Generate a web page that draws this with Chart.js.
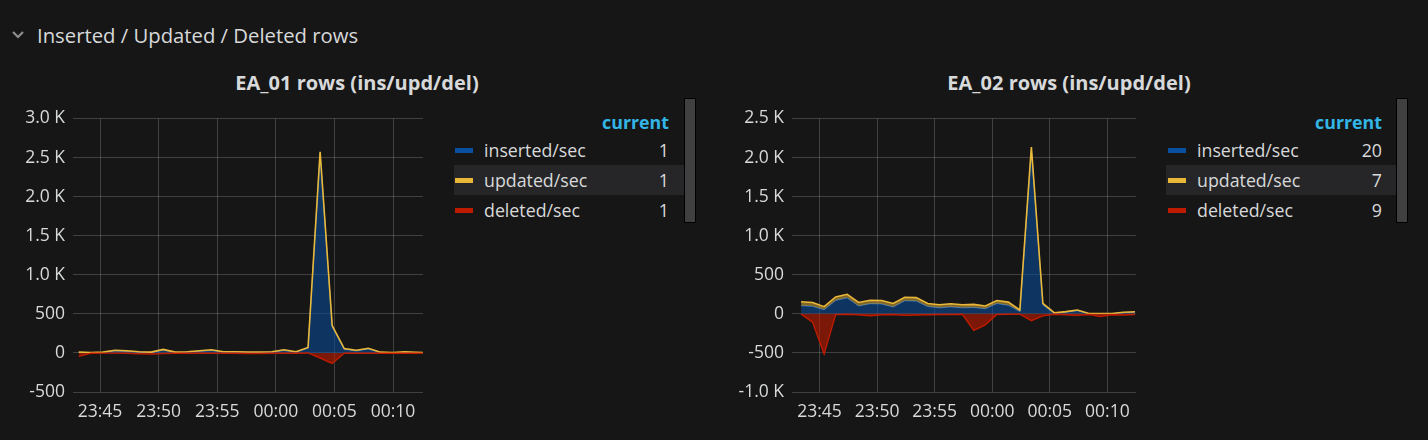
<!DOCTYPE html>
<html lang="en">
<head>
<meta charset="UTF-8">
<title>Inserted / Updated / Deleted rows</title>
<script src="https://cdn.jsdelivr.net/npm/chart.js@4.4.0/dist/chart.umd.min.js"></script>
<style>
    body { margin: 0; width: 1428px; height: 440px; background: #161616; font-family: "Open Sans", sans-serif; color: #d8d9da; position: relative; overflow: hidden; }
    .abs { position: absolute; }
    #rowTitle { left: 37px; top: 20px; font-size: 20.3px; line-height: 30px; white-space: nowrap; }
    .panelTitle { top: 69px; font-size: 20px; font-weight: 700; line-height: 28px; text-align: center; white-space: nowrap; }
    canvas { position: absolute; top: 100px; }
    .cur { top: 108px; font-size: 17.8px; font-weight: 700; color: #33b5e5; line-height: 28px; text-align: right; }
    .row { height: 30px; line-height: 30px; font-size: 17.8px; white-space: nowrap; }
    .row.hl { background: #262628; }
    .sw { position: absolute; top: 13px; width: 18px; height: 5px; }
    .lbl { position: absolute; }
    .val { position: absolute; text-align: right; }
    .scroll { top: 98px; width: 10px; height: 123px; background: #404040; border: 1px solid #000; }
</style>
</head>
<body>

<svg class="abs" style="left:10px;top:28px" width="16" height="14"><polyline points="3,4 8,9 13,4" fill="none" stroke="#8e8e8e" stroke-width="2.2"/></svg>
<div id="rowTitle" class="abs">Inserted / Updated / Deleted rows</div>

<div class="abs panelTitle" style="left:157px;width:400px">EA_01 rows (ins/upd/del)</div>
<div class="abs panelTitle" style="left:869px;width:400px">EA_02 rows (ins/upd/del)</div>

<canvas id="chart1" width="430" height="332" style="left:0px"></canvas>
<canvas id="chart2" width="420" height="332" style="left:720px"></canvas>

<div id="legend1"></div>
<div id="legend2"></div>

<script>
    // series names and colours
    const seriesNames = ['inserted/sec', 'updated/sec', 'deleted/sec'];
    const seriesColors = ['#0a50a1', '#eab839', '#bf1b00'];

    // x axis: minutes relative to 00:00
    const xTickMinutes = [-15, -10, -5, 0, 5, 10];
    const xTickLabels = ['23:45', '23:50', '23:55', '00:00', '00:05', '00:10'];

    // EA_01
    const ea01Minutes = [-16.82, -15.79, -14.76, -13.73, -12.70, -11.67, -10.64, -9.61, -8.58, -7.55,
        -6.52, -5.49, -4.46, -3.43, -2.40, -1.37, -0.34, 0.69, 1.72, 2.75,
        3.78, 4.81, 5.84, 6.87, 7.90, 8.93, 9.96, 10.99, 12.02, 13.05];
    const ea01Inserted = [5, 0, 5, 25, 18, 10, 5, 35, 5, 10, 20, 30, 10, 10, 7, 7, 10, 30, 10, 60,
        2555, 335, 45, 25, 50, 5, 0, 10, 3, 1];
    const ea01Updated = [5, 5, 5, 10, 10, 5, 5, 10, 5, 5, 8, 10, 5, 5, 5, 5, 5, 10, 5, 10,
        20, 15, 10, 10, 10, 5, 5, 5, 5, 1];
    const ea01Deleted = [45, 5, 3, 3, 5, 10, 15, 8, 5, 5, 5, 5, 5, 5, 8, 8, 5, 5, 5, 0,
        65, 133, 5, 5, 5, 5, 5, 5, 5, 1];
    const ea01Current = [1, 1, 1];
    const ea01YTicks = [-500, 0, 500, 1000, 1500, 2000, 2500, 3000];
    const ea01YLabels = ['-500', '0', '500', '1.0 K', '1.5 K', '2.0 K', '2.5 K', '3.0 K'];

    // EA_02
    const ea02Minutes = [-16.6, -15.6, -14.6, -13.6, -12.6, -11.6, -10.6, -9.6, -8.6, -7.6,
        -6.6, -5.6, -4.6, -3.6, -2.6, -1.6, -0.6, 0.4, 1.4, 2.4,
        3.4, 4.4, 5.4, 6.4, 7.4, 8.4, 9.4, 10.4, 11.4, 12.4];
    const ea02Inserted = [104, 96, 52, 172, 205, 101, 130, 126, 88, 167, 163, 93, 77, 89, 77, 81, 65, 131, 110, 30,
        2104, 113, 7, 21, 40, 2, 2, 3, 15, 20];
    const ea02Updated = [50, 50, 40, 45, 45, 45, 45, 45, 45, 45, 45, 40, 40, 40, 40, 40, 35, 40, 40, 20,
        30, 20, 5, 8, 10, 2, 2, 2, 6, 7];
    const ea02Deleted = [3, 108, 515, 10, 5, 12, 25, 12, 8, 20, 15, 12, 8, 8, 5, 212, 142, 8, 5, 5,
        88, 25, 5, 12, 20, 8, 33, 12, 15, 9];
    const ea02Current = [20, 7, 9];
    const ea02YTicks = [-1000, -500, 0, 500, 1000, 1500, 2000, 2500];
    const ea02YLabels = ['-1.0 K', '-500', '0', '500', '1.0 K', '1.5 K', '2.0 K', '2.5 K'];

    function makeChart(id, times, ins, upd, del, yTicks, yLabels, xMin, xMax, yWidth, padRight) {
        const total = ins.map((v, i) => v + upd[i]);
        const pts = arr => times.map((t, i) => ({ x: t, y: arr[i] }));
        return new Chart(document.getElementById(id), {
            type: 'line',
            data: {
                datasets: [
                    {
                        label: seriesNames[2],
                        data: pts(del.map(v => -v)),
                        borderColor: seriesColors[2],
                        backgroundColor: 'rgba(191,27,0,0.6)',
                        borderWidth: 1.4,
                        fill: 'origin'
                    },
                    {
                        label: seriesNames[1],
                        data: pts(total),
                        borderColor: seriesColors[1],
                        backgroundColor: 'rgba(234,184,57,0.5)',
                        borderWidth: 1.6,
                        fill: 2
                    },
                    {
                        label: seriesNames[0],
                        data: pts(ins),
                        borderColor: '#2a6cc0',
                        backgroundColor: 'rgba(10,80,161,0.55)',
                        borderWidth: 1,
                        fill: 'origin'
                    }
                ]
            },
            options: {
                responsive: false,
                animation: false,
                layout: { padding: { top: 12, right: padRight, bottom: 0, left: 0 } },
                elements: { point: { radius: 0 }, line: { tension: 0 } },
                plugins: { legend: { display: false }, tooltip: { enabled: false } },
                scales: {
                    x: {
                        type: 'linear',
                        min: xMin,
                        max: xMax,
                        afterBuildTicks: s => { s.ticks = xTickMinutes.map(v => ({ value: v })); },
                        afterFit: s => { s.height = 40; },
                        grid: { color: 'rgba(255,255,255,0.18)', drawTicks: false },
                        border: { display: false },
                        ticks: {
                            padding: 10,
                            maxRotation: 0,
                            autoSkip: false,
                            color: '#d8d9da',
                            font: { family: 'Open Sans', size: 17.5 },
                            callback: v => xTickLabels[xTickMinutes.indexOf(v)]
                        }
                    },
                    y: {
                        min: yTicks[0],
                        max: yTicks[yTicks.length - 1],
                        afterBuildTicks: s => { s.ticks = yTicks.map(v => ({ value: v })); },
                        afterFit: s => { s.width = yWidth; },
                        grid: { color: 'rgba(255,255,255,0.18)', drawTicks: false },
                        border: { display: false },
                        ticks: {
                            padding: 8,
                            color: '#d8d9da',
                            font: { family: 'Open Sans', size: 17.5 },
                            callback: v => yLabels[yTicks.indexOf(v)]
                        }
                    }
                }
            }
        });
    }

    function makeLegend(id, current, swLeft, lblLeft, valRight, hlLeft, hlRight) {
        const el = document.getElementById(id);
        let html = `<div class="abs cur" style="left:${valRight - 120}px;width:120px">current</div>`;
        seriesNames.forEach((name, i) => {
            const top = 135 + i * 30;
            html += `<div class="abs row${i === 1 ? ' hl' : ''}" style="left:${hlLeft}px;width:${hlRight - hlLeft}px;top:${top}px">
                <div class="sw" style="left:${swLeft - hlLeft}px;background:${seriesColors[i]}"></div>
                <div class="lbl" style="left:${lblLeft - hlLeft}px">${name}</div>
                <div class="val" style="left:0;width:${valRight - hlLeft}px">${current[i]}</div>
            </div>`;
        });
        html += `<div class="abs scroll" style="left:${hlRight}px"></div>`;
        el.innerHTML = html;
    }

    makeChart('chart1', ea01Minutes, ea01Inserted, ea01Updated, ea01Deleted, ea01YTicks, ea01YLabels, -17.31, 12.56, 73, 7);
    makeChart('chart2', ea02Minutes, ea02Inserted, ea02Updated, ea02Deleted, ea02YTicks, ea02YLabels, -17.39, 12.47, 72, 4);
    makeLegend('legend1', ea01Current, 455, 484, 669, 454, 684);
    makeLegend('legend2', ea02Current, 1168, 1197, 1382, 1166, 1396);
</script>
</body>
</html>
